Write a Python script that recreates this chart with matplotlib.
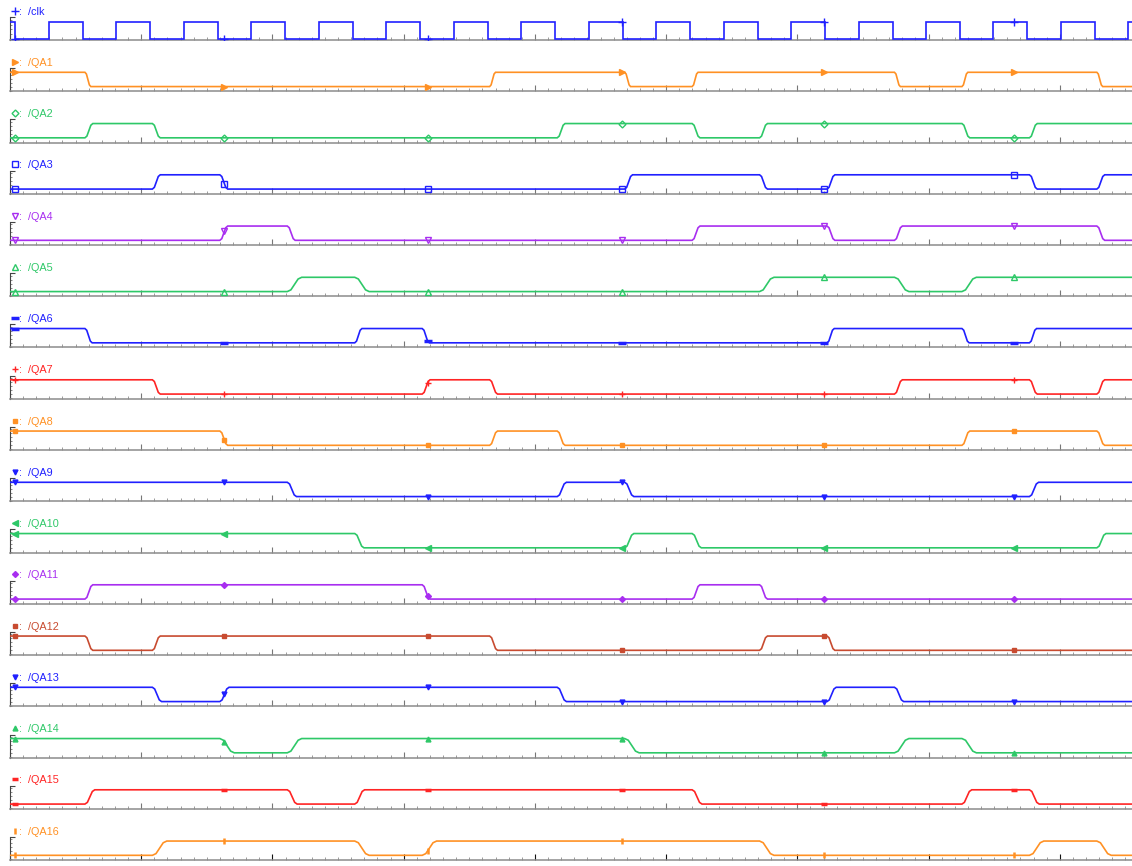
import numpy as np
import matplotlib
matplotlib.use("Agg")
import matplotlib.pyplot as plt
from matplotlib.lines import Line2D
from matplotlib.ticker import MultipleLocator, FixedLocator

VDD = 1.8
T_END = 855.0
DELAY = 1.5  # clk fall -> output switching (ns)

# clock edge times (ns) and the level held after each edge
clk_t = [0.0, 3.8, 29.7, 55.6, 81.1, 107.0, 132.5, 158.4, 183.9, 209.8,
         235.3, 261.2, 286.7, 312.6, 338.2, 364.0, 389.6, 415.5, 441.0,
         466.9, 492.4, 518.3, 543.8, 569.7, 595.2, 621.1, 646.6, 672.5,
         698.0, 723.9, 749.4, 775.3, 800.8, 826.7, 852.2]
clk_lvl = [1, 0, 1, 0, 1, 0, 1, 0, 1, 0, 1, 0, 1, 0, 1, 0, 1, 0, 1, 0,
           1, 0, 1, 0, 1, 0, 1, 0, 1, 0, 1, 0, 1, 0, 1]

# the register outputs change on the falling clk edges
shift_t = [55.6, 107.0, 158.4, 209.8, 261.2, 312.6, 364.0, 415.5,
           466.9, 518.3, 569.7, 621.1, 672.5, 723.9, 775.3, 826.7]

# logic state of every output, one value per interval between shift edges
QA1 = [1, 0, 0, 0, 0, 0, 0, 1, 1, 0, 1, 1, 1, 0, 1, 1, 0]
QA2 = [0, 1, 0, 0, 0, 0, 0, 0, 1, 1, 0, 1, 1, 1, 0, 1, 1]
QA3 = [0, 0, 1, 0, 0, 0, 0, 0, 0, 1, 1, 0, 1, 1, 1, 0, 1]
QA4 = [0, 0, 0, 1, 0, 0, 0, 0, 0, 0, 1, 1, 0, 1, 1, 1, 0]
QA5 = [0, 0, 0, 0, 1, 0, 0, 0, 0, 0, 0, 1, 1, 0, 1, 1, 1]
QA6 = [1, 0, 0, 0, 0, 1, 0, 0, 0, 0, 0, 0, 1, 1, 0, 1, 1]
QA7 = [1, 1, 0, 0, 0, 0, 1, 0, 0, 0, 0, 0, 0, 1, 1, 0, 1]
QA8 = [1, 1, 1, 0, 0, 0, 0, 1, 0, 0, 0, 0, 0, 0, 1, 1, 0]
QA9 = [1, 1, 1, 1, 0, 0, 0, 0, 1, 0, 0, 0, 0, 0, 0, 1, 1]
QA10 = [1, 1, 1, 1, 1, 0, 0, 0, 0, 1, 0, 0, 0, 0, 0, 0, 1]
QA11 = [0, 1, 1, 1, 1, 1, 0, 0, 0, 0, 1, 0, 0, 0, 0, 0, 0]
QA12 = [1, 0, 1, 1, 1, 1, 1, 0, 0, 0, 0, 1, 0, 0, 0, 0, 0]
QA13 = [1, 1, 0, 1, 1, 1, 1, 1, 0, 0, 0, 0, 1, 0, 0, 0, 0]
QA14 = [1, 1, 1, 0, 1, 1, 1, 1, 1, 0, 0, 0, 0, 1, 0, 0, 0]
QA15 = [0, 1, 1, 1, 0, 1, 1, 1, 1, 1, 0, 0, 0, 0, 1, 0, 0]
QA16 = [0, 0, 1, 1, 1, 0, 1, 1, 1, 1, 1, 0, 0, 0, 0, 1, 0]

qa_names = ["QA%d" % i for i in range(1, 17)]
qa_data = [QA1, QA2, QA3, QA4, QA5, QA6, QA7, QA8,
           QA9, QA10, QA11, QA12, QA13, QA14, QA15, QA16]

# edge time (ns) of each output
qa_ramp = [4.5, 6.0, 6.0, 6.0, 11.0, 5.5, 6.0, 6.0,
           7.0, 7.0, 6.0, 6.0, 7.0, 11.0, 7.5, 11.0]

# positions of the trace markers (ns)
mark_t = [4.0, 163.4, 318.2, 466.6, 620.5, 765.0]

ORANGE = "#ff9124"
GREEN = "#2ec868"
BLUE = "#2020ff"
PURPLE = "#a82ef0"
RED = "#ff2424"
BROWN = "#c84b30"

# color, marker, size, filled
styles = {
    "clk": (BLUE, "+", 6, True),
    "QA1": (ORANGE, ">", 4.5, True),
    "QA2": (GREEN, "D", 3.5, False),
    "QA3": (BLUE, "s", 5, False),
    "QA4": (PURPLE, "v", 5, False),
    "QA5": (GREEN, "^", 5, False),
    "QA6": (BLUE, "_", 6, True),
    "QA7": (RED, "+", 5, True),
    "QA8": (ORANGE, "s", 3.5, True),
    "QA9": (BLUE, "v", 3.5, True),
    "QA10": (GREEN, "<", 4, True),
    "QA11": (PURPLE, "D", 3, True),
    "QA12": (BROWN, "s", 3.5, True),
    "QA13": (BLUE, "v", 3.5, True),
    "QA14": (GREEN, "^", 3.5, True),
    "QA15": (RED, "_", 5, True),
    "QA16": (ORANGE, "|", 5, True),
}


def clk_wave():
    t = np.repeat(np.array(clk_t + [T_END]), 2)[1:-1]
    v = np.repeat(np.array(clk_lvl, dtype=float) * VDD, 2)
    return t, v


def qa_wave(bits, ramp):
    t, v = [0.0], [bits[0] * VDD]
    for k, te in enumerate(shift_t):
        a, b = bits[k] * VDD, bits[k + 1] * VDD
        if a == b:
            continue
        t0 = te + DELAY
        d = b - a
        t += [t0, t0 + 0.25 * ramp, t0 + 0.75 * ramp, t0 + ramp]
        v += [a, a + 0.12 * d, b - 0.12 * d, b]
    t.append(T_END)
    v.append(bits[-1] * VDD)
    return np.array(t), np.array(v)


W, H = 1132, 866
fig = plt.figure(figsize=(W / 100, H / 100), dpi=100)
plt.rcParams["font.family"] = ["Liberation Sans", "DejaVu Sans"]

rows = ["clk"] + qa_names
row_h = 23.0
for i, name in enumerate(rows):
    base = 40 + 51.25 * i
    ax = fig.add_axes([10 / W, 1 - base / H, 1 - 10 / W, row_h / H])

    if name == "clk":
        t, v = clk_wave()
        ylo, yhi = -0.10, 2.29
    else:
        k = qa_names.index(name)
        t, v = qa_wave(qa_data[k], qa_ramp[k])
        ylo, yhi = -0.59, 2.31

    color, mk, ms, filled = styles[name]
    mfc = color if filled else "none"
    mew = 2.5 if mk == "_" else (1.8 if mk == "|" else 1.0)

    ax.plot(t, v, color=color, lw=1.2, solid_joinstyle="miter", zorder=3)
    ax.plot(mark_t, np.interp(mark_t, t, v), ls="none", marker=mk, ms=ms,
            mfc=mfc, mec=color, mew=mew, zorder=4)

    ax.set_xlim(0, T_END)
    ax.set_ylim(ylo, yhi)

    # axes in the style of a waveform viewer
    for s in ("top", "right"):
        ax.spines[s].set_visible(False)
    ax.spines["bottom"].set_color("#8c8c8c")
    ax.spines["bottom"].set_linewidth(1.1)
    ax.spines["left"].set_color("#444444")
    ax.spines["left"].set_linewidth(0.8)

    ax.xaxis.set_major_locator(MultipleLocator(100))
    ax.xaxis.set_minor_locator(MultipleLocator(10))
    major_c = "#111111" if name == "QA16" else "#777777"
    ax.tick_params(axis="x", which="major", direction="in", length=4.5,
                   width=0.8, color=major_c, labelbottom=False)
    ax.tick_params(axis="x", which="minor", direction="in", length=2.2,
                   width=0.7, color="#9a9a9a")
    ax.yaxis.set_major_locator(FixedLocator([yhi]))
    ax.yaxis.set_minor_locator(MultipleLocator(0.5))
    ax.tick_params(axis="y", which="major", direction="in", length=3.5,
                   width=0.8, color="#444444", labelleft=False)
    ax.tick_params(axis="y", which="minor", direction="in", length=1.5,
                   width=0.6, color="#777777")

    key = Line2D([], [], ls="none", marker=mk, ms=ms, mfc=mfc, mec=color,
                 mew=mew)
    ax.legend([key], [":  /" + name], loc="lower left",
              bbox_to_anchor=(0.002, 1.02), frameon=False, fontsize=7.8,
              handlelength=0.5, handletextpad=0.15, borderpad=0,
              borderaxespad=0, labelcolor=color)

fig.savefig("out.png", dpi=100, facecolor="white")
